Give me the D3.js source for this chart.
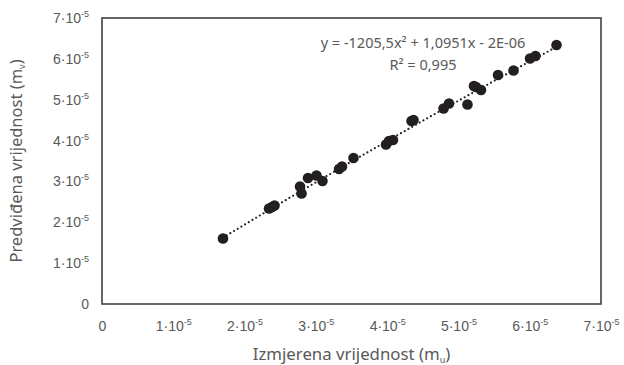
<!doctype html>
<html lang="hr">
<head>
    <meta charset="utf-8" />
    <title>Izmjerena vs predviđena vrijednost</title>
    <style>
        body { margin: 0; background: #fff; }
        svg { display: block; font-family: "Noto Sans", sans-serif; }
    </style>
</head>
<body>
    <svg id="chart"></svg>

    <script src="https://cdn.jsdelivr.net/npm/d3@7/dist/d3.min.js"></script>
    <script>
        const measured = [
            1.697e-5, 2.343e-5, 2.385e-5, 2.420e-5, 2.778e-5, 2.799e-5, 2.890e-5,
            3.009e-5, 3.093e-5, 3.325e-5, 3.367e-5, 3.528e-5, 3.984e-5, 4.026e-5,
            4.082e-5, 4.342e-5, 4.370e-5, 4.791e-5, 4.868e-5, 5.127e-5, 5.218e-5,
            5.247e-5, 5.317e-5, 5.555e-5, 5.773e-5, 6.004e-5, 6.081e-5, 6.376e-5
        ];
        const predicted = [
            1.603e-5, 2.337e-5, 2.374e-5, 2.411e-5, 2.876e-5, 2.705e-5, 3.084e-5,
            3.145e-5, 3.011e-5, 3.304e-5, 3.365e-5, 3.573e-5, 3.904e-5, 3.990e-5,
            4.014e-5, 4.479e-5, 4.503e-5, 4.785e-5, 4.907e-5, 4.883e-5, 5.336e-5,
            5.311e-5, 5.238e-5, 5.605e-5, 5.715e-5, 6.009e-5, 6.070e-5, 6.339e-5
        ];
        // trendline y = a*x^2 + b*x + c, as printed on the chart
        const trendCoef = [-1205.5, 1.0951, -2e-6];
        const trendLabel = ["y = -1205,5x² + 1,0951x - 2E-06", "R² = 0,995"];

        const tickValues = [0, 1e-5, 2e-5, 3e-5, 4e-5, 5e-5, 6e-5, 7e-5];
        const tickMantissa = ["0", "1", "2", "3", "4", "5", "6", "7"];

        const xTitle = ["Izmjerena vrijednost (m", "u", ")"];
        const yTitle = ["Predviđena vrijednost (m", "v", ")"];

        renderChart("#chart");

        function renderChart(container) {
            const width = 624, height = 365;
            const left = 102, right = 601, top = 18, bottom = 304;
            const textColor = "#595959";

            const svg = d3.select(container)
                .attr("width", width)
                .attr("height", height);

            const x = d3.scaleLinear().domain([0, 7e-5]).range([left, right]);
            const y = d3.scaleLinear().domain([0, 7e-5]).range([bottom, top]);

            // trendline, dotted
            const [a, b, c] = trendCoef;
            const xmin = d3.min(measured), xmax = d3.max(measured);
            const trend = d3.range(0, 101).map(i => {
                const xv = xmin + (xmax - xmin) * i / 100;
                return [xv, a * xv * xv + b * xv + c];
            });
            svg.append("path")
                .datum(trend)
                .attr("fill", "none")
                .attr("stroke", "#231f20")
                .attr("stroke-width", 2.2)
                .attr("stroke-linecap", "round")
                .attr("stroke-dasharray", "0,4.3")
                .attr("d", d3.line().x(d => x(d[0])).y(d => y(d[1])));

            // points
            svg.append("g")
                .selectAll("circle")
                .data(measured.map((m, i) => [m, predicted[i]]))
                .join("circle")
                .attr("cx", d => x(d[0]))
                .attr("cy", d => y(d[1]))
                .attr("r", 5.3)
                .attr("fill", "#231f20");

            // frame
            svg.append("rect")
                .attr("x", left)
                .attr("y", top)
                .attr("width", right - left)
                .attr("height", bottom - top)
                .attr("fill", "none")
                .attr("stroke", "#404040")
                .attr("stroke-width", 1.6);

            // axes (labels only)
            const xAxis = svg.append("g")
                .attr("transform", `translate(0,${bottom})`)
                .call(d3.axisBottom(x).tickValues(tickValues).tickSize(0).tickPadding(17).tickFormat(""));
            const yAxis = svg.append("g")
                .attr("transform", `translate(${left},0)`)
                .call(d3.axisLeft(y).tickValues(tickValues).tickSize(0).tickPadding(13).tickFormat(""));
            [xAxis, yAxis].forEach(g => {
                g.select(".domain").remove();
                g.selectAll("text")
                    .attr("fill", textColor)
                    .attr("font-size", 14)
                    .each(function(d, i) {
                        const t = d3.select(this);
                        t.append("tspan").text(tickMantissa[i] + (i > 0 ? "·10" : ""));
                        if (i > 0) {
                            t.append("tspan")
                                .attr("font-size", 9)
                                .attr("dy", -6)
                                .text("-5");
                        }
                    });
            });

            // trendline label
            svg.append("text")
                .attr("x", 423)
                .attr("y", 48)
                .attr("text-anchor", "middle")
                .attr("font-size", 14.5)
                .attr("fill", textColor)
                .text(trendLabel[0]);
            svg.append("text")
                .attr("x", 423)
                .attr("y", 70)
                .attr("text-anchor", "middle")
                .attr("font-size", 14.5)
                .attr("fill", textColor)
                .text(trendLabel[1]);

            // axis titles
            const xt = svg.append("text")
                .attr("x", (left + right) / 2)
                .attr("y", 360)
                .attr("text-anchor", "middle")
                .attr("font-size", 16.8)
                .attr("fill", textColor);
            addSubscriptTitle(xt, xTitle);

            const yt = svg.append("text")
                .attr("transform", `translate(22,${(top + bottom) / 2}) rotate(-90)`)
                .attr("text-anchor", "middle")
                .attr("font-size", 16.5)
                .attr("fill", textColor);
            addSubscriptTitle(yt, yTitle);
        }

        function addSubscriptTitle(text, parts) {
            text.append("tspan").text(parts[0]);
            text.append("tspan").attr("font-size", 9).attr("dy", 3).text(parts[1]);
            text.append("tspan").attr("dy", -3).text(parts[2]);
        }
    </script>
</body>
</html>
